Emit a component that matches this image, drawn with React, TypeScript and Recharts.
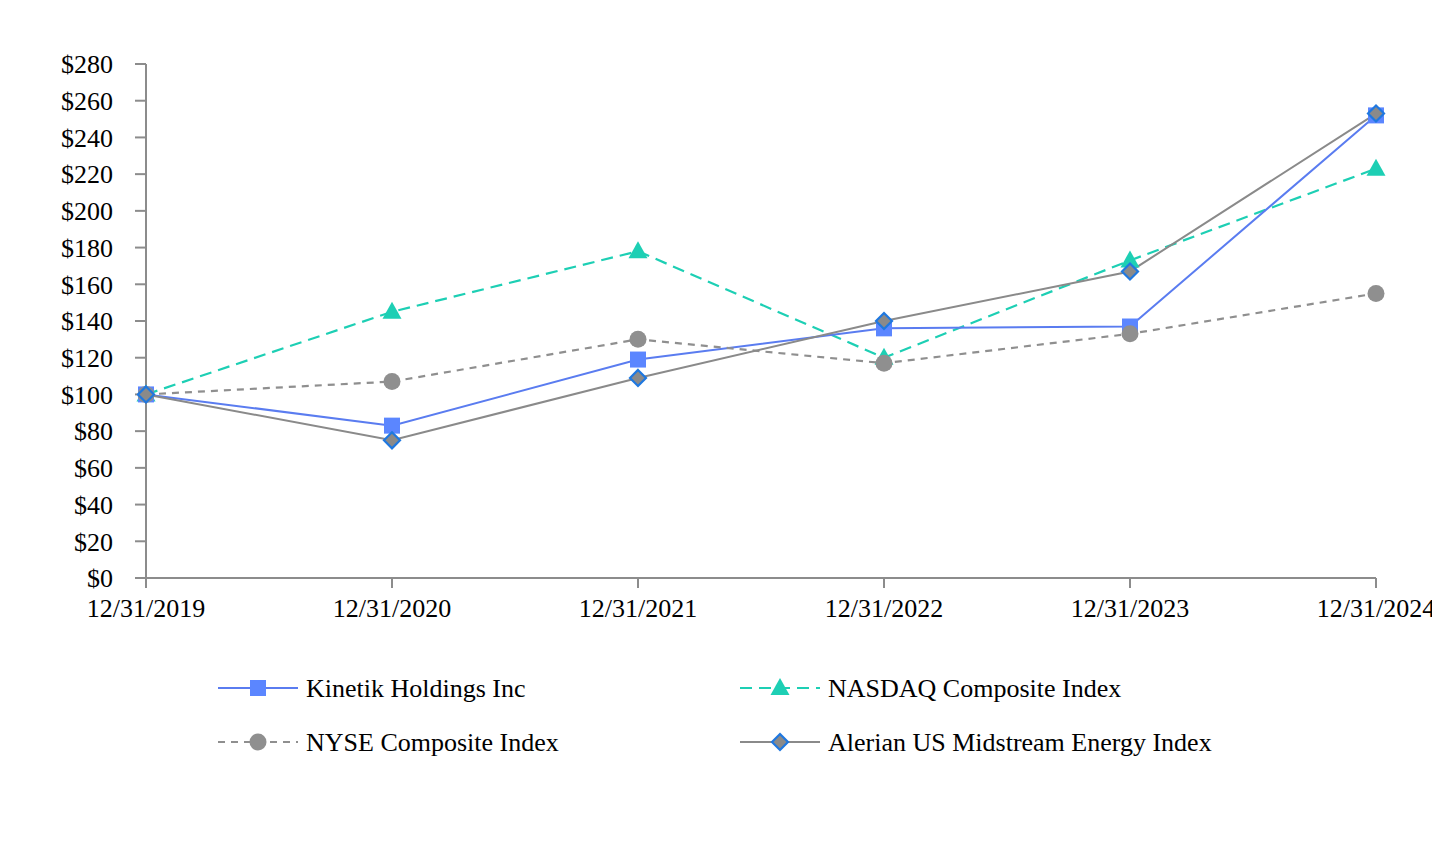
import React from "react";
import { LineChart, Line, XAxis, YAxis, Legend } from "recharts";

const categories = ["12/31/2019", "12/31/2020", "12/31/2021", "12/31/2022", "12/31/2023", "12/31/2024"];
const kinetik = [100, 83, 119, 136, 137, 252];
const nasdaq = [100, 145, 178, 120, 173, 223];
const nyse = [100, 107, 130, 117, 133, 155];
const alerian = [100, 75, 109, 140, 167, 253];
const yTicks = [0, 20, 40, 60, 80, 100, 120, 140, 160, 180, 200, 220, 240, 260, 280];

const seriesNames = {
  kinetik: "Kinetik Holdings Inc",
  nasdaq: "NASDAQ Composite Index",
  nyse: "NYSE Composite Index",
  alerian: "Alerian US Midstream Energy Index",
};

const data = categories.map((c, i) => ({
  date: c,
  kinetik: kinetik[i],
  nasdaq: nasdaq[i],
  nyse: nyse[i],
  alerian: alerian[i],
}));

const FONT = "'Liberation Serif', 'Times New Roman', serif";
const AXIS = "#8c8c8c";
const C_KIN_LINE = "#5a7cf0";
const C_KIN_MARK = "#5b86ff";
const C_NAS = "#1dcfb4";
const C_NYSE = "#8f8f8f";
const C_ALE = "#8a8a8a";
const C_ALE_STROKE = "#1f78e0";

const Square = (cx: number, cy: number, key?: any) => (
  <rect key={key} x={cx - 8} y={cy - 8} width={16} height={16} fill={C_KIN_MARK} />
);
const Triangle = (cx: number, cy: number, key?: any) => (
  <polygon key={key} points={`${cx},${cy - 10} ${cx + 9.5},${cy + 7} ${cx - 9.5},${cy + 7}`} fill={C_NAS} />
);
const Circle = (cx: number, cy: number, key?: any) => (
  <circle key={key} cx={cx} cy={cy} r={8.5} fill={C_NYSE} />
);
const Diamond = (cx: number, cy: number, key?: any) => (
  <polygon
    key={key}
    points={`${cx},${cy - 8} ${cx + 8},${cy} ${cx},${cy + 8} ${cx - 8},${cy}`}
    fill={C_ALE}
    stroke={C_ALE_STROKE}
    strokeWidth={2.2}
  />
);

const LegendContent = () => {
  const rows = [
    { x: 218, y: 30, label: seriesNames.kinetik, color: C_KIN_LINE, dash: undefined as string | undefined, w: 2, mark: Square },
    { x: 740, y: 30, label: seriesNames.nasdaq, color: C_NAS, dash: "12 7", w: 2.2, mark: Triangle },
    { x: 218, y: 84, label: seriesNames.nyse, color: C_NYSE, dash: "7 6", w: 2.2, mark: Circle },
    { x: 740, y: 84, label: seriesNames.alerian, color: C_ALE, dash: undefined, w: 2, mark: Diamond },
  ];
  return (
    <svg width={1440} height={110} style={{ display: "block" }}>
      {rows.map((r, i) => (
        <g key={i}>
          <line x1={r.x} y1={r.y} x2={r.x + 80} y2={r.y} stroke={r.color} strokeWidth={r.w} strokeDasharray={r.dash} />
          {r.mark(r.x + 40, r.y)}
          <text x={r.x + 88} y={r.y} dy="0.35em" fontFamily={FONT} fontSize={26} fill="#000">
            {r.label}
          </text>
        </g>
      ))}
    </svg>
  );
};

export default function App() {
  return (
    <div style={{ width: 1440, height: 800, marginLeft: -8, background: "#fff", overflow: "visible" }}>
      <style>{`.recharts-surface{overflow:visible !important;} .recharts-wrapper{overflow:visible !important;}`}</style>
      <LineChart
        width={1440}
        height={800}
        data={data}
        margin={{ top: 56, right: 64, left: 66, bottom: 170 }}
      >
        <XAxis
          dataKey="date"
          interval={0}
          height={60}
          axisLine={{ stroke: AXIS, strokeWidth: 2 }}
          tickLine={{ stroke: AXIS, strokeWidth: 2 }}
          tickSize={10}
          tickMargin={11}
          tick={{ fontFamily: FONT, fontSize: 26, fill: "#000" }}
        />
        <YAxis
          width={80}
          domain={[0, 280]}
          ticks={yTicks}
          interval={0}
          tickFormatter={(v: number) => `$${v}`}
          axisLine={{ stroke: AXIS, strokeWidth: 2 }}
          tickLine={{ stroke: AXIS, strokeWidth: 2 }}
          tickSize={11}
          tickMargin={22}
          tick={{ fontFamily: FONT, fontSize: 26, fill: "#000" }}
        />
        <Legend
          layout="horizontal"
          verticalAlign="middle"
          align="center"
          content={() => <LegendContent />}
          wrapperStyle={{ position: "absolute", left: 0, top: 650, width: 1440, height: 110 }}
        />
        <Line
          dataKey="nasdaq"
          name={seriesNames.nasdaq}
          stroke={C_NAS}
          strokeWidth={2.2}
          strokeDasharray="12 7"
          isAnimationActive={false}
          dot={(p: any) => Triangle(p.cx, p.cy, `n-${p.index}`)}
          activeDot={false}
        />
        <Line
          dataKey="kinetik"
          name={seriesNames.kinetik}
          stroke={C_KIN_LINE}
          strokeWidth={2}
          isAnimationActive={false}
          dot={(p: any) => Square(p.cx, p.cy, `k-${p.index}`)}
          activeDot={false}
        />
        <Line
          dataKey="nyse"
          name={seriesNames.nyse}
          stroke={C_NYSE}
          strokeWidth={2.2}
          strokeDasharray="7 6"
          isAnimationActive={false}
          dot={(p: any) => Circle(p.cx, p.cy, `c-${p.index}`)}
          activeDot={false}
        />
        <Line
          dataKey="alerian"
          name={seriesNames.alerian}
          stroke={C_ALE}
          strokeWidth={2}
          isAnimationActive={false}
          dot={(p: any) => Diamond(p.cx, p.cy, `a-${p.index}`)}
          activeDot={false}
        />
      </LineChart>
    </div>
  );
}
